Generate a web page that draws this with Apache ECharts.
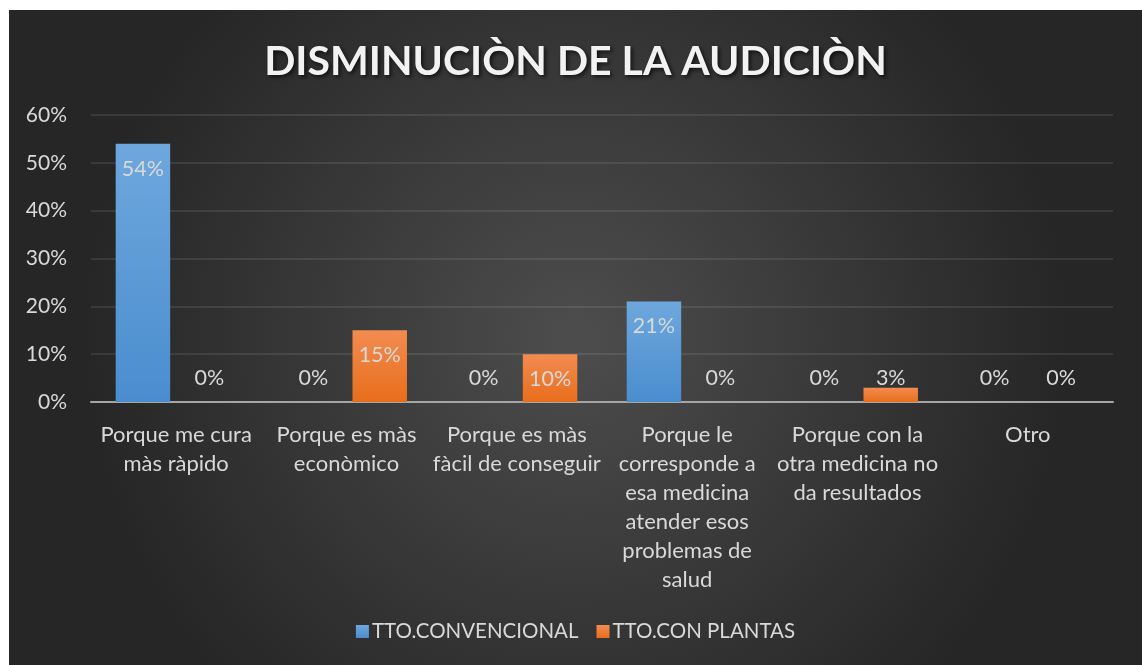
<!DOCTYPE html>
<html>
<head>
<meta charset="utf-8">
<style>
  html, body { margin: 0; padding: 0; background: #ffffff; }
  #chart { position: absolute; left: 9px; top: 10px; width: 1133px; height: 655px; }
</style>
<script src="https://cdn.jsdelivr.net/npm/echarts@6/dist/echarts.min.js"></script>
</head>
<body>
<div id="chart"></div>
<script>
const categories = [
  'Porque me cura\nmàs ràpido',
  'Porque es màs\neconòmico',
  'Porque es màs\nfàcil de conseguir',
  'Porque le\ncorresponde a\nesa medicina\natender esos\nproblemas de\nsalud',
  'Porque con la\notra medicina no\nda resultados',
  'Otro'
]
const convencional = [54, 0, 0, 21, 0, 0]
const plantas = [0, 15, 10, 0, 3, 0]
const yTicks = [0, 10, 20, 30, 40, 50, 60]

const textColor = '#d9d9d9'
const font = 'Lato'

// Excel "inside end": small bars push the label above the bar
const toItems = values => values.map(v => ({
  value: v,
  label: v >= 8
    ? { position: 'insideTop', distance: 14 }
    : { position: 'insideBottom', distance: 13 }
}))

const barGradient = (top, bottom) => new echarts.graphic.LinearGradient(0, 0, 0, 1, [
  { offset: 0, color: top },
  { offset: 1, color: bottom }
])

const chart = echarts.init(document.getElementById('chart'))

chart.setOption({
  backgroundColor: {
    type: 'radial',
    x: 0.5,
    y: 0.5,
    r: 0.75,
    colorStops: [
      { offset: 0, color: '#4d4d4d' },
      { offset: 1, color: '#262626' }
    ]
  },
  textStyle: { fontFamily: font },
  title: {
    text: 'DISMINUCIÒN DE LA AUDICIÒN',
    left: 'center',
    top: 26,
    textStyle: {
      color: '#f2f2f2',
      fontSize: 41,
      fontWeight: 'bold',
      fontFamily: font,
      textShadowColor: 'rgba(0,0,0,0.7)',
      textShadowBlur: 4,
      textShadowOffsetX: 2,
      textShadowOffsetY: 2
    }
  },
  legend: {
    bottom: 18,
    left: 'center',
    icon: 'rect',
    itemWidth: 13,
    itemHeight: 13,
    itemGap: 18,
    textStyle: { color: textColor, fontSize: 20.5, fontFamily: font, padding: [0, 0, 0, -2] },
    data: ['TTO.CONVENCIONAL', 'TTO.CON PLANTAS']
  },
  grid: {
    left: 82,
    right: 29,
    top: 105,
    bottom: 263,
    containLabel: false
  },
  xAxis: {
    type: 'category',
    data: categories,
    axisLine: { lineStyle: { color: '#a6a6a6', width: 2 } },
    axisTick: { show: false },
    axisLabel: {
      interval: 0,
      color: textColor,
      fontSize: 22,
      lineHeight: 29,
      margin: 18,
      align: 'center'
    }
  },
  yAxis: {
    type: 'value',
    min: yTicks[0],
    max: yTicks[yTicks.length - 1],
    interval: 10,
    axisLine: { show: false },
    axisTick: { show: false },
    axisLabel: {
      color: textColor,
      fontSize: 21,
      margin: 24,
      formatter: v => v + '%'
    },
    splitLine: { lineStyle: { color: 'rgba(255,255,255,0.12)', width: 1.5 } }
  },
  series: [
    {
      name: 'TTO.CONVENCIONAL',
      type: 'bar',
      data: toItems(convencional),
      barGap: '22%',
      barCategoryGap: '29%',
      itemStyle: { color: barGradient('#6ea7dd', '#4a8dcf') },
      label: {
        show: true,
        color: textColor,
        fontSize: 21.5,
        formatter: p => p.value + '%'
      }
    },
    {
      name: 'TTO.CON PLANTAS',
      type: 'bar',
      data: toItems(plantas),
      barGap: '22%',
      barCategoryGap: '29%',
      itemStyle: { color: barGradient('#f28c50', '#e86e1c') },
      label: {
        show: true,
        color: textColor,
        fontSize: 21.5,
        formatter: p => p.value + '%'
      }
    }
  ]
})
</script>
</body>
</html>
